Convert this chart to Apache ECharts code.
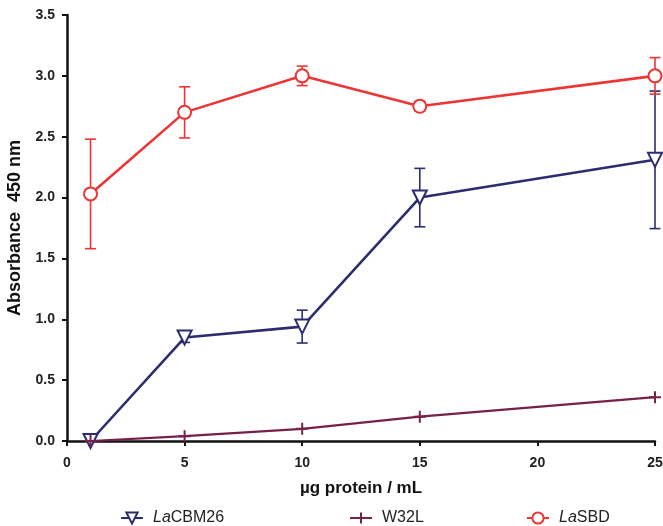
<!DOCTYPE html>
<html><head><meta charset="utf-8">
<script src="https://cdn.jsdelivr.net/npm/echarts@6/dist/echarts.min.js"></script>
<style>html,body{margin:0;padding:0;background:#fff}#c{width:663px;height:526px}</style>
</head><body><div id="c"></div>
<script>
const xValues = [1, 5, 10, 15, 25];
const cbmMean = [0.0, 0.85, 0.94, 2.0, 2.31];
const cbmErr  = [0.0, 0.04, 0.135, 0.24, 0.565];
const w32Mean = [0.0, 0.04, 0.10, 0.20, 0.36];
const sbdMean = [2.03, 2.70, 3.00, 2.75, 3.00];
const sbdErr  = [0.45, 0.21, 0.08, 0.04, 0.15];
const xTicks = [0, 5, 10, 15, 20, 25];
const yTicks = [0, 0.5, 1.0, 1.5, 2.0, 2.5, 3.0, 3.5];

const C_CBM = '#2b2d6e', C_W32 = '#76204a', C_SBD = '#ee3535';
const font = 'Liberation Sans, Arial, sans-serif';

function pts(ys){ return xValues.map((x,i)=>[x, ys[i]]); }
function errData(m, e){ return xValues.map((x,i)=>[x, m[i]-e[i], m[i]+e[i]]); }
function errSeries(name, m, e, color){
  return {
    type:'custom', name: name+'_err', z: 1, silent:true,
    data: errData(m,e),
    renderItem: function(params, api){
      const x = api.value(0);
      const lo = api.coord([x, api.value(1)]);
      const hi = api.coord([x, api.value(2)]);
      const hw = 5.5;
      const st = {stroke: color, lineWidth: 1.6, fill: null};
      return {type:'group', children:[
        {type:'line', shape:{x1:lo[0], y1:lo[1], x2:hi[0], y2:hi[1]}, style:st},
        {type:'line', shape:{x1:lo[0]-hw, y1:lo[1], x2:lo[0]+hw, y2:lo[1]}, style:st},
        {type:'line', shape:{x1:hi[0]-hw, y1:hi[1], x2:hi[0]+hw, y2:hi[1]}, style:st}
      ]};
    }
  };
}
const plusPath = 'path://M0,-10L0,10M-10,0L10,0';
const chart = echarts.init(document.getElementById('c'));
const rich = {
  i:{fontStyle:'italic', fontSize:16, fontFamily:font, color:'#222', padding:[0,0,0,5]},
  n:{fontSize:16, fontFamily:font, color:'#222'},
  p:{fontSize:16, fontFamily:font, color:'#222', padding:[0,0,0,5]}
};
function legend(name, left){
  return {data:[name], left:left, top:505, itemWidth:22, itemHeight:14,
    textStyle:{fontSize:16, fontFamily:font, color:'#222', rich:rich},
    formatter: function(n){ if(n.indexOf('La')===0) return '{i|La}{n|'+n.slice(2)+'}'; return '{p|'+n+'}'; }};
}
chart.setOption({
  animation:false,
  backgroundColor:'#fff',
  grid:{left:67, right:8, top:15, bottom:85, containLabel:false, outerBoundsMode:'none'},
  legend:[legend('LaCBM26', 115), legend('W32L', 344), legend('LaSBD', 521)],
  xAxis:{type:'value', min:0, max:25, interval:5,
    name:'µg protein / mL', nameLocation:'middle', nameGap:39,
    nameTextStyle:{fontSize:17, fontWeight:'bold', fontFamily:font, color:'#111'},
    axisLine:{lineStyle:{color:'#111', width:2.5}},
    axisTick:{show:true, length:5, lineStyle:{color:'#111', width:2}},
    axisLabel:{fontSize:14, fontWeight:'bold', fontFamily:font, color:'#222', margin:15,
      formatter: v => xTicks.includes(v) ? String(v) : ''},
    splitLine:{show:false}},
  yAxis:{type:'value', min:0, max:3.5, interval:0.5,
    name:'Absorbance  450 nm', nameLocation:'middle', nameGap:43,
    nameTextStyle:{fontSize:18, fontWeight:'bold', fontFamily:font, color:'#111'},
    axisLine:{show:true, lineStyle:{color:'#111', width:2.5}},
    axisTick:{show:true, length:5, lineStyle:{color:'#111', width:2}},
    axisLabel:{fontSize:14, fontWeight:'bold', fontFamily:font, color:'#222', margin:12,
      formatter: v => yTicks.some(t=>Math.abs(t-v)<1e-9) ? v.toFixed(1) : ''},
    splitLine:{show:false}},
  series:[
    errSeries('LaCBM26', cbmMean, cbmErr, C_CBM),
    errSeries('LaSBD', sbdMean, sbdErr, C_SBD),
    {type:'line', name:'LaCBM26', data:pts(cbmMean), z:3,
      symbol:'emptyTriangle', symbolRotate:180, symbolSize:14, showAllSymbol:true,
      lineStyle:{color:C_CBM, width:2.6}, itemStyle:{color:C_CBM, borderColor:C_CBM, borderWidth:2}},
    {type:'line', name:'W32L', data:pts(w32Mean), z:3,
      symbol:plusPath, symbolSize:12, showAllSymbol:true,
      lineStyle:{color:C_W32, width:2.2}, itemStyle:{color:C_W32, borderColor:C_W32, borderWidth:2}},
    {type:'line', name:'LaSBD', data:pts(sbdMean), z:3,
      symbol:'emptyCircle', symbolSize:13, showAllSymbol:true,
      lineStyle:{color:C_SBD, width:2.6}, itemStyle:{color:C_SBD, borderColor:C_SBD, borderWidth:2}}
  ]
});
</script></body></html>
